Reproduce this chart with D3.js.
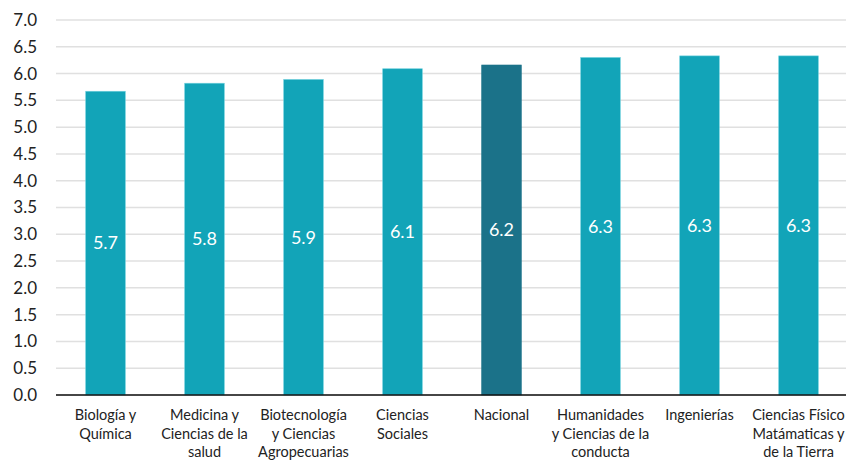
<!DOCTYPE html>
<html>
<head>
<meta charset="utf-8">
<script src="https://cdn.jsdelivr.net/npm/d3@7"></script>
<style>
    body { margin: 0; background: #fff; }
    svg text { font-family: "Source Sans Pro", Lato, "Noto Sans", sans-serif; }
</style>
</head>
<body>
<div id="chart"></div>
<script>
var categories = [
    "Biología y|Química",
    "Medicina y|Ciencias de la|salud",
    "Biotecnología|y Ciencias|Agropecuarias",
    "Ciencias|Sociales",
    "Nacional",
    "Humanidades|y Ciencias de la|conducta",
    "Ingenierías",
    "Ciencias Físico|Matámaticas y|de la Tierra"
];
var values = [5.67, 5.82, 5.89, 6.09, 6.16, 6.30, 6.33, 6.33];
var labels = ["5.7", "5.8", "5.9", "6.1", "6.2", "6.3", "6.3", "6.3"];
var yTicks = [0, 0.5, 1, 1.5, 2, 2.5, 3, 3.5, 4, 4.5, 5, 5.5, 6, 6.5, 7];

var width = 846, height = 460;
var margin = {top: 20, right: -2, bottom: 65, left: 56};

var svg = d3.select("#chart").append("svg")
    .attr("width", width)
    .attr("height", height);

var x = d3.scaleBand()
    .domain(categories)
    .range([margin.left, width - margin.right])
    .paddingInner(0.6)
    .paddingOuter(0.3);

var y = d3.scaleLinear()
    .domain([0, 7])
    .range([height - margin.bottom, margin.top]);

// gridlines
svg.append("g")
    .selectAll("line")
    .data(yTicks)
    .enter()
    .append("line")
    .attr("x1", margin.left)
    .attr("x2", width)
    .attr("y1", function (d) { return y(d); })
    .attr("y2", function (d) { return y(d); })
    .style("stroke", "#e0e0e0")
    .style("stroke-width", 1.5);

// y axis labels
var yAxis = svg.append("g")
    .attr("transform", "translate(" + margin.left + ",0)")
    .call(d3.axisLeft(y).tickValues(yTicks).tickFormat(d3.format(".1f")).tickSize(0).tickPadding(19));
yAxis.select(".domain").remove();
yAxis.selectAll("text")
    .style("font-size", "17px")
    .style("fill", "#222");

// bars
svg.append("g")
    .selectAll("rect")
    .data(values)
    .enter()
    .append("rect")
    .attr("x", function (d, i) { return x(categories[i]); })
    .attr("y", function (d) { return y(d); })
    .attr("width", x.bandwidth())
    .attr("height", function (d) { return y(0) - y(d); })
    .style("fill", function (d, i) { return categories[i] === "Nacional" ? "#1b7289" : "#12a4b8"; })
    .style("stroke", function (d, i) { return categories[i] === "Nacional" ? "#1b7289" : "#6fd0dd"; })
    .style("stroke-width", 0.6);

// value labels
svg.append("g")
    .selectAll("text")
    .data(values)
    .enter()
    .append("text")
    .attr("x", function (d, i) { return x(categories[i]) + x.bandwidth() / 2; })
    .attr("y", function (d) { return (y(d) + y(0)) / 2; })
    .attr("dy", "0.35em")
    .style("text-anchor", "middle")
    .style("font-size", "18px")
    .style("fill", "#fff")
    .text(function (d, i) { return labels[i]; });

// x axis line
svg.append("line")
    .attr("x1", margin.left)
    .attr("x2", width)
    .attr("y1", y(0))
    .attr("y2", y(0))
    .style("stroke", "#111")
    .style("stroke-width", 1.5);

// category labels
var catLabels = svg.append("g")
    .selectAll("text")
    .data(categories)
    .enter()
    .append("text")
    .attr("x", function (d) { return x(d) + x.bandwidth() / 2; })
    .attr("y", y(0) + 25)
    .style("text-anchor", "middle")
    .style("font-size", "14.5px")
    .style("fill", "#222");

catLabels.selectAll("tspan")
    .data(function (d) { return d.split("|"); })
    .enter()
    .append("tspan")
    .attr("x", function () { return d3.select(this.parentNode).attr("x"); })
    .attr("dy", function (d, i) { return i === 0 ? 0 : 18.5; })
    .text(function (d) { return d; });
</script>
</body>
</html>
